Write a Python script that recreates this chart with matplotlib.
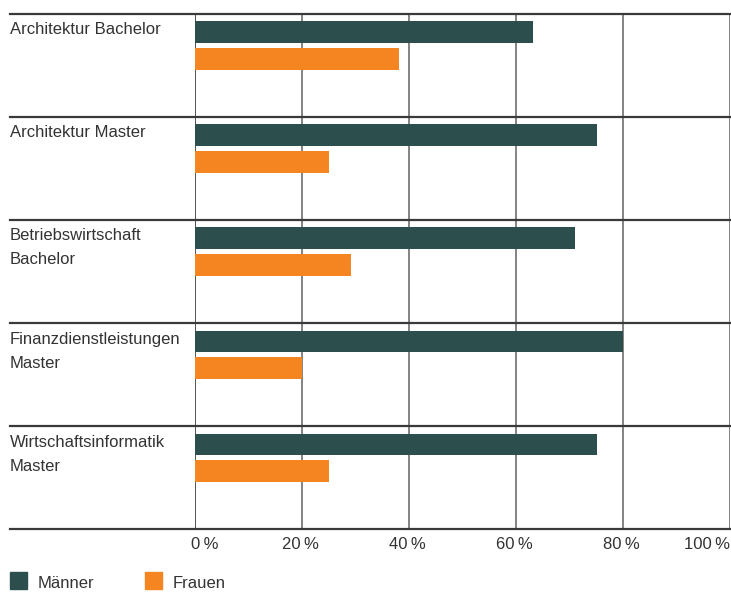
import matplotlib
matplotlib.use("Agg")
import matplotlib.pyplot as plt
from matplotlib.patches import Rectangle
from matplotlib.transforms import offset_copy

plt.rcParams['font.family'] = ['Liberation Sans', 'DejaVu Sans']

categories = ["Architektur Bachelor", "Architektur Master", "Betriebswirtschaft\nBachelor",
              "Finanzdienstleistungen\nMaster", "Wirtschaftsinformatik\nMaster"]
maenner = [63, 75, 71, 80, 75]
frauen = [38, 25, 29, 20, 25]
ticks = [0, 20, 40, 60, 80, 100]
tick_labels = ["0\u2009%", "20\u2009%", "40\u2009%", "60\u2009%", "80\u2009%", "100\u2009%"]
series_names = ["Männer", "Frauen"]
colors = ["#2c4f4d", "#f58520"]
text_color = "#333333"

W, H = 731, 593
fig = plt.figure(figsize=(W / 100, H / 100), dpi=100)
x0, x1 = 195.5, 730.5
y_top, y_bot = 13.5, 529
ax = fig.add_axes([x0 / W, 1 - y_bot / H, (x1 - x0) / W, (y_bot - y_top) / H])
ax.set_xlim(0, 100)
n = len(categories)
ax.set_ylim(n, 0)

for i in range(n):
    ax.barh(i + 0.18, maenner[i], height=0.21, color=colors[0], zorder=3)
    ax.barh(i + 0.44, frauen[i], height=0.213, color=colors[1], zorder=3)

# vertical grid lines
for t in ticks:
    c = "#444444" if t == 0 else "#7a7a7a"
    ax.axvline(t, color=c, lw=1.3, zorder=2)

# horizontal separators spanning to the left edge
left_frac = (10 - x0) / (x1 - x0)
for k in range(n + 1):
    ax.axhline(k, xmin=left_frac, xmax=1.0, color="#3a3a3a", lw=1.6, zorder=4, clip_on=False)

# category labels
for i, lab in enumerate(categories):
    ax.text(left_frac, i + 0.085, lab, transform=ax.get_yaxis_transform(), ha="left", va="top",
            fontsize=12, color=text_color, linespacing=1.75)

for s in ax.spines.values():
    s.set_visible(False)
ax.set_yticks([])
ax.set_xticks(ticks)
ax.set_xticklabels(tick_labels, fontsize=12, color=text_color)
ax.tick_params(axis="x", length=0, pad=6)
labs = ax.get_xticklabels()
labs[0].set_horizontalalignment("left")
labs[0].set_transform(offset_copy(labs[0].get_transform(), fig=fig, x=-4, y=0, units="dots"))
labs[-1].set_horizontalalignment("right")
for lb in labs[1:-1]:
    lb.set_transform(offset_copy(lb.get_transform(), fig=fig, x=-2, y=0, units="dots"))

# legend
leg_y0 = 572
for j, (name, col, lx) in enumerate(zip(series_names, colors, [10, 145])):
    fig.add_artist(Rectangle((lx / W, 1 - (leg_y0 + 17) / H), 17 / W, 17 / H,
                             transform=fig.transFigure, color=col))
    fig.text((lx + 28) / W, 1 - (leg_y0 + 12) / H, name, ha="left", va="center",
             fontsize=12, color=text_color)

fig.savefig("out.png", dpi=100)
